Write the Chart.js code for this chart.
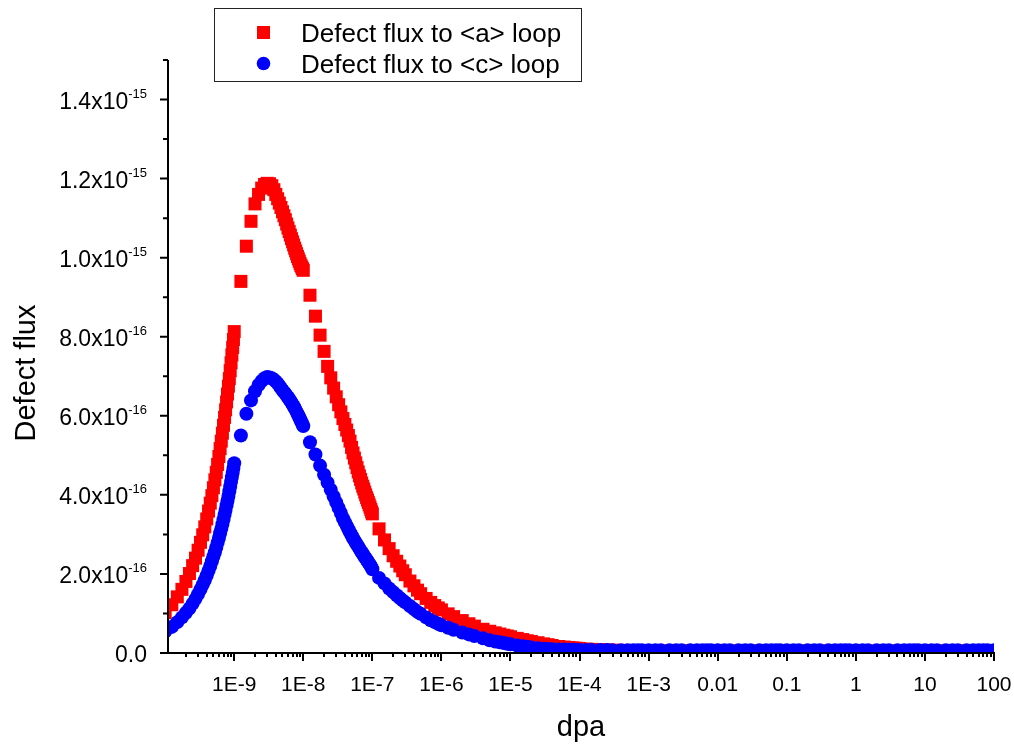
<!DOCTYPE html>
<html>
<head>
<meta charset="utf-8">
<script src="https://cdn.jsdelivr.net/npm/chart.js@4.4.0/dist/chart.umd.min.js"></script>
<style>
  html, body { margin: 0; padding: 0; background: #fff; }
  #wrap { width: 1014px; height: 744px; }
</style>
</head>
<body>
<div id="wrap"><canvas id="fluxChart" width="1014" height="744"></canvas></div>
<script>
// dpa (x values, same for both series), one line per decade
const dpa = [
  1e-10, 1.25e-10, 1.5e-10, 1.75e-10, 2e-10, 2.25e-10, 2.5e-10, 2.75e-10, 3e-10, 3.25e-10, 3.5e-10, 3.75e-10, 4e-10, 4.25e-10, 4.5e-10, 4.75e-10, 5e-10, 5.25e-10, 5.5e-10, 5.75e-10, 6e-10, 6.25e-10, 6.5e-10, 6.75e-10, 7e-10, 7.25e-10, 7.5e-10, 7.75e-10, 8e-10, 8.25e-10, 8.5e-10, 8.75e-10, 9e-10, 9.25e-10, 9.5e-10, 9.75e-10, 1e-9,
  1.25e-9, 1.5e-9, 1.75e-9, 2e-9, 2.25e-9, 2.5e-9, 2.75e-9, 3e-9, 3.25e-9, 3.5e-9, 3.75e-9, 4e-9, 4.25e-9, 4.5e-9, 4.75e-9, 5e-9, 5.25e-9, 5.5e-9, 5.75e-9, 6e-9, 6.25e-9, 6.5e-9, 6.75e-9, 7e-9, 7.25e-9, 7.5e-9, 7.75e-9, 8e-9, 8.25e-9, 8.5e-9, 8.75e-9, 9e-9, 9.25e-9, 9.5e-9, 9.75e-9, 1e-8,
  1.25e-8, 1.5e-8, 1.75e-8, 2e-8, 2.25e-8, 2.5e-8, 2.75e-8, 3e-8, 3.25e-8, 3.5e-8, 3.75e-8, 4e-8, 4.25e-8, 4.5e-8, 4.75e-8, 5e-8, 5.25e-8, 5.5e-8, 5.75e-8, 6e-8, 6.25e-8, 6.5e-8, 6.75e-8, 7e-8, 7.25e-8, 7.5e-8, 7.75e-8, 8e-8, 8.25e-8, 8.5e-8, 8.75e-8, 9e-8, 9.25e-8, 9.5e-8, 9.75e-8, 1e-7,
  1.25e-7, 1.5e-7, 1.75e-7, 2e-7, 2.25e-7, 2.5e-7, 2.75e-7, 3e-7, 3.5e-7, 4e-7, 4.5e-7, 5e-7, 6e-7, 7e-7, 8e-7, 9e-7, 1e-6,
  1.25e-6, 1.5e-6, 2e-6, 2.5e-6, 3e-6, 4e-6, 5e-6, 6e-6, 7e-6, 8e-6, 9e-6, 1e-5,
  1.25e-5, 1.5e-5, 1.75e-5, 2e-5, 2.5e-5, 3e-5, 3.5e-5, 4e-5, 5e-5, 6e-5, 7e-5, 8e-5, 9e-5, 1e-4,
  1.25e-4, 1.5e-4, 2e-4, 2.5e-4, 3e-4, 4e-4, 5e-4, 6e-4, 7e-4, 8e-4, 1e-3,
  1.25e-3, 1.5e-3, 2e-3, 2.5e-3, 3e-3, 4e-3, 5e-3, 6e-3, 7e-3, 8e-3, 0.01,
  0.0125, 0.015, 0.02, 0.025, 0.03, 0.04, 0.05, 0.06, 0.07, 0.08, 0.1,
  0.125, 0.15, 0.2, 0.25, 0.3, 0.4, 0.5, 0.6, 0.7, 0.8, 1,
  1.25, 1.5, 2, 2.5, 3, 4, 5, 6, 7, 8, 10,
  12.5, 15, 20, 25, 30, 40, 50, 60, 70, 80, 100
];

// Defect flux to <a> loop (units of 1e-16)
const fluxA = [
  1.02, 1.22, 1.42, 1.61, 1.81, 2.01, 2.21, 2.40, 2.60, 2.80, 2.99, 3.19, 3.39, 3.59, 3.79, 3.98, 4.18, 4.38, 4.57, 4.77, 4.97, 5.17, 5.36, 5.56, 5.76, 5.96, 6.15, 6.35, 6.55, 6.75, 6.94, 7.14, 7.34, 7.54, 7.73, 7.93, 8.13,
  9.40, 10.29, 10.92, 11.36, 11.60, 11.76, 11.85, 11.88, 11.87, 11.82, 11.72, 11.60, 11.49, 11.38, 11.27, 11.16, 11.06, 10.96, 10.85, 10.75, 10.66, 10.57, 10.48, 10.40, 10.32, 10.24, 10.17, 10.10, 10.03, 9.97, 9.91, 9.85, 9.80, 9.76, 9.72, 9.68,
  9.05, 8.52, 8.04, 7.63, 7.25, 6.96, 6.70, 6.48, 6.28, 6.10, 5.93, 5.78, 5.64, 5.50, 5.36, 5.20, 5.06, 4.93, 4.81, 4.69, 4.58, 4.48, 4.39, 4.30, 4.22, 4.15, 4.07, 4.00, 3.93, 3.87, 3.81, 3.75, 3.69, 3.63, 3.57, 3.52,
  3.14, 2.86, 2.64, 2.46, 2.32, 2.20, 2.08, 1.98, 1.82, 1.70, 1.59, 1.50, 1.38, 1.28, 1.20, 1.14, 1.09,
  0.99, 0.92, 0.82, 0.74, 0.68, 0.60, 0.55, 0.51, 0.48, 0.45, 0.43, 0.41,
  0.37, 0.34, 0.31, 0.29, 0.26, 0.23, 0.21, 0.19, 0.165, 0.15, 0.14, 0.13, 0.12, 0.115,
  0.10, 0.092, 0.083, 0.077, 0.072, 0.066, 0.062, 0.058, 0.055, 0.053, 0.05,
  0.05, 0.05, 0.05, 0.05, 0.05, 0.05, 0.05, 0.05, 0.05, 0.05, 0.05,
  0.05, 0.05, 0.05, 0.05, 0.05, 0.05, 0.05, 0.05, 0.05, 0.05, 0.05,
  0.05, 0.05, 0.05, 0.05, 0.05, 0.05, 0.05, 0.05, 0.05, 0.05, 0.05,
  0.05, 0.05, 0.05, 0.05, 0.05, 0.05, 0.05, 0.05, 0.05, 0.05, 0.05,
  0.05, 0.05, 0.05, 0.05, 0.05, 0.05, 0.05, 0.05, 0.05, 0.05, 0.05
];

// Defect flux to <c> loop (units of 1e-16)
const fluxC = [
  0.54, 0.66, 0.78, 0.90, 1.02, 1.13, 1.25, 1.37, 1.49, 1.61, 1.73, 1.84, 1.96, 2.08, 2.20, 2.32, 2.44, 2.55, 2.67, 2.79, 2.91, 3.03, 3.14, 3.26, 3.38, 3.50, 3.62, 3.74, 3.85, 3.97, 4.09, 4.21, 4.33, 4.45, 4.56, 4.68, 4.80,
  5.50, 6.05, 6.39, 6.62, 6.78, 6.88, 6.95, 6.98, 6.97, 6.95, 6.91, 6.87, 6.82, 6.76, 6.70, 6.65, 6.60, 6.56, 6.51, 6.47, 6.42, 6.38, 6.33, 6.29, 6.24, 6.20, 6.15, 6.10, 6.05, 6.01, 5.96, 5.92, 5.87, 5.83, 5.78, 5.74,
  5.33, 5.02, 4.74, 4.51, 4.31, 4.13, 3.96, 3.81, 3.67, 3.54, 3.41, 3.31, 3.22, 3.13, 3.05, 2.98, 2.91, 2.85, 2.79, 2.74, 2.69, 2.64, 2.59, 2.55, 2.51, 2.47, 2.43, 2.40, 2.36, 2.33, 2.29, 2.26, 2.23, 2.20, 2.16, 2.12,
  1.90, 1.76, 1.63, 1.54, 1.46, 1.39, 1.33, 1.28, 1.19, 1.11, 1.04, 0.99, 0.90, 0.83, 0.78, 0.74, 0.70,
  0.64, 0.59, 0.52, 0.47, 0.43, 0.37, 0.32, 0.29, 0.27, 0.25, 0.235, 0.22,
  0.19, 0.17, 0.155, 0.14, 0.12, 0.11, 0.10, 0.095, 0.09, 0.086, 0.083, 0.08, 0.078, 0.077,
  0.076, 0.075, 0.074, 0.073, 0.072, 0.072, 0.071, 0.071, 0.07, 0.07, 0.07,
  0.07, 0.07, 0.07, 0.07, 0.07, 0.07, 0.07, 0.07, 0.07, 0.07, 0.07,
  0.07, 0.07, 0.07, 0.07, 0.07, 0.07, 0.07, 0.07, 0.07, 0.07, 0.07,
  0.07, 0.07, 0.07, 0.07, 0.07, 0.07, 0.07, 0.07, 0.07, 0.07, 0.07,
  0.07, 0.07, 0.07, 0.07, 0.07, 0.07, 0.07, 0.07, 0.07, 0.07, 0.07,
  0.07, 0.07, 0.07, 0.07, 0.07, 0.07, 0.07, 0.07, 0.07, 0.07, 0.07
];

// axis ticks
const xTickValues = [1e-9, 1e-8, 1e-7, 1e-6, 1e-5, 1e-4, 1e-3, 0.01, 0.1, 1, 10, 100];
const xTickLabels = ["1E-9", "1E-8", "1E-7", "1E-6", "1E-5", "1E-4", "1E-3", "0.01", "0.1", "1", "10", "100"];
const yTickValues = [0, 2, 4, 6, 8, 10, 12, 14];
const yTickMain = ["0.0", "2.0x10", "4.0x10", "6.0x10", "8.0x10", "1.0x10", "1.2x10", "1.4x10"];
const yTickExp = ["", "-16", "-16", "-16", "-16", "-15", "-15", "-15"];

const seriesNames = ["Defect flux to <a> loop", "Defect flux to <c> loop"];
const FONT = "'Liberation Sans', Arial, sans-serif";

// Axes, ticks and titles drawn Origin-style on top of the points
const originAxes = {
  id: "originAxes",
  afterDatasetsDraw(chart) {
    const ctx = chart.ctx;
    const xs = chart.scales.x;
    const ys = chart.scales.y;
    const a = chart.chartArea;
    ctx.save();
    ctx.strokeStyle = "#000";
    ctx.fillStyle = "#000";
    ctx.lineWidth = 2;

    ctx.beginPath();
    ctx.moveTo(a.left, a.top);
    ctx.lineTo(a.left, a.bottom + 1);
    ctx.moveTo(a.left - 1, a.bottom);
    ctx.lineTo(a.right + 1, a.bottom);

    // x minor ticks
    for (let d = -10; d <= 1; d++) {
      for (let k = 2; k <= 9; k++) {
        const v = k * Math.pow(10, d);
        if (v < xs.min || v > xs.max) continue;
        const px = Math.round(xs.getPixelForValue(v));
        ctx.moveTo(px, a.bottom);
        ctx.lineTo(px, a.bottom + 4);
      }
    }
    // x major ticks
    xTickValues.forEach((v) => {
      const px = Math.round(xs.getPixelForValue(v));
      ctx.moveTo(px, a.bottom);
      ctx.lineTo(px, a.bottom + 8);
    });
    // y ticks
    for (let v = 1; v <= 15; v += 2) {
      const py = ys.getPixelForValue(v);
      ctx.moveTo(a.left, py);
      ctx.lineTo(a.left - 5, py);
    }
    yTickValues.forEach((v) => {
      const py = ys.getPixelForValue(v);
      ctx.moveTo(a.left, py);
      ctx.lineTo(a.left - 8, py);
    });
    ctx.stroke();

    // x labels
    ctx.font = "21px " + FONT;
    ctx.textAlign = "center";
    ctx.textBaseline = "alphabetic";
    xTickValues.forEach((v, i) => {
      ctx.fillText(xTickLabels[i], xs.getPixelForValue(v), a.bottom + 38);
    });

    // y labels with superscript exponent
    const right = a.left - 21;
    yTickValues.forEach((v, i) => {
      const py = ys.getPixelForValue(v);
      ctx.font = "13px " + FONT;
      const wExp = yTickExp[i] ? ctx.measureText(yTickExp[i]).width : 0;
      ctx.textAlign = "left";
      if (yTickExp[i]) ctx.fillText(yTickExp[i], right - wExp, py - 2);
      ctx.font = "23px " + FONT;
      ctx.textAlign = "right";
      ctx.fillText(yTickMain[i], right - wExp, py + 9);
    });

    // axis titles
    ctx.font = "29px " + FONT;
    ctx.textAlign = "center";
    ctx.fillText("dpa", (a.left + a.right) / 2, a.bottom + 83);
    ctx.save();
    ctx.translate(35, 373);
    ctx.rotate(-Math.PI / 2);
    ctx.fillText("Defect flux", 0, 0);
    ctx.restore();
    ctx.restore();
  },
  afterDraw(chart) {
    // boxed legend
    const ctx = chart.ctx;
    ctx.save();
    ctx.strokeStyle = "#222";
    ctx.lineWidth = 1;
    ctx.strokeRect(214.5, 8.5, 367, 73);
    ctx.fillStyle = "#ff0000";
    ctx.fillRect(257, 26, 13, 13);
    ctx.fillStyle = "#0000ff";
    ctx.beginPath();
    ctx.arc(263.5, 63.5, 6.8, 0, Math.PI * 2);
    ctx.fill();
    ctx.fillStyle = "#000";
    ctx.font = "26px " + FONT;
    ctx.textAlign = "left";
    ctx.textBaseline = "alphabetic";
    ctx.fillText(seriesNames[0], 301, 42);
    ctx.fillText(seriesNames[1], 301, 73);
    ctx.restore();
  }
};

const ctx = document.getElementById("fluxChart");
new Chart(ctx, {
  type: "scatter",
  data: {
    datasets: [
      {
        label: seriesNames[0],
        data: dpa.map((x, i) => ({ x: x, y: fluxA[i] })),
        pointStyle: "rect",
        pointRadius: 9.2,
        borderWidth: 0,
        backgroundColor: "#ff0000",
        borderColor: "#ff0000",
        order: 2,
      },
      {
        label: seriesNames[1],
        data: dpa.map((x, i) => ({ x: x, y: fluxC[i] })),
        pointStyle: "circle",
        pointRadius: 7,
        borderWidth: 0,
        backgroundColor: "#0000ff",
        borderColor: "#0000ff",
        order: 1,
      },
    ],
  },
  options: {
    responsive: false,
    animation: false,
    devicePixelRatio: 1,
    events: [],
    layout: {
      padding: { left: 168, right: 20, top: 60, bottom: 91 },
    },
    plugins: {
      legend: { display: false },
      tooltip: { enabled: false },
    },
    scales: {
      x: { type: "logarithmic", min: 1.1e-10, max: 100, display: false },
      y: { type: "linear", min: 0, max: 15, display: false },
    },
  },
  plugins: [originAxes],
});
</script>
</body>
</html>
